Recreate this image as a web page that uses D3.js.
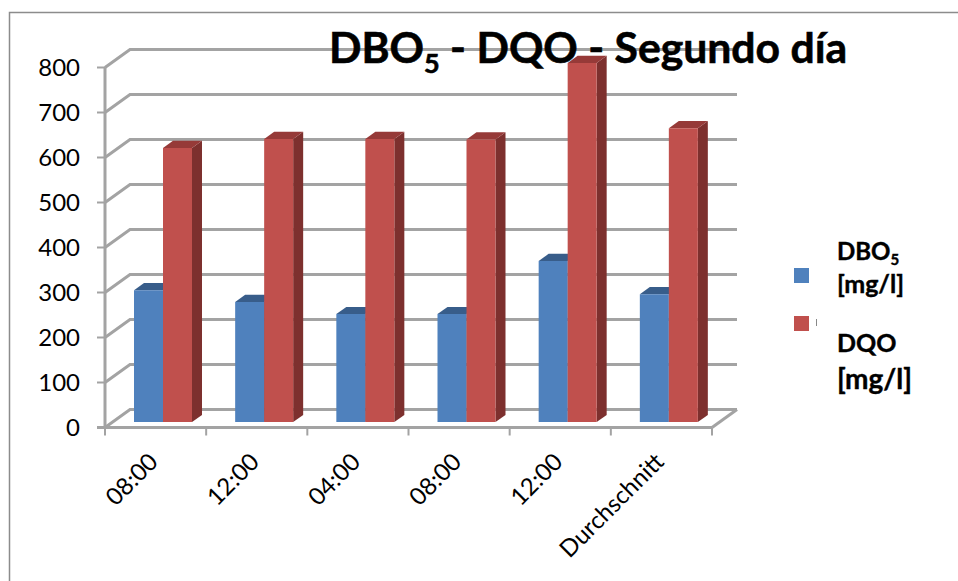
<!DOCTYPE html>
<html>
<head>
<meta charset="utf-8">
<script src="https://cdn.jsdelivr.net/npm/d3@7"></script>
<style>
html,body{margin:0;padding:0;background:#fff}
text{font-family:Lato,"Open Sans",sans-serif;fill:#000}
</style>
</head>
<body>
<svg id="chart" width="958" height="581"></svg>
<script>
// Sampling times and readings, in mg/l
const categories = ["08:00", "12:00", "04:00", "08:00", "12:00", "Durchschnitt"];
const dbo5 = [293, 267, 240, 240, 358, 284];
const dqo = [609, 629, 629, 628, 798, 653];
const yTicks = [0, 100, 200, 300, 400, 500, 600, 700, 800];

const svg = d3.select("#chart");

// Oblique projection: depth 0 is the front edge of the floor, depth 1 the back wall
const depthX = 25, depthY = -18;
const x = d3.scaleBand().domain(d3.range(categories.length)).range([105, 712]);
const y = d3.scaleLinear().domain([0, 800]).range([427.5, 67.5]);
const project = (px, v, depth) => [px + depth * depthX, y(v) + depth * depthY];

const gridColor = "#a3a3a3";
const line = d3.line();

// Chart frame: only the top and left edges fall inside the page
svg.append("path").attr("d", line([[9.5, 581], [9.5, 12.5], [958, 12.5]]))
  .attr("fill", "none").attr("stroke", "#8c8c8c").attr("stroke-width", 1.5);

// Back wall gridlines with their slanted returns along the side wall
const grid = svg.append("g").attr("fill", "none").attr("stroke", gridColor).attr("stroke-width", 3);
yTicks.forEach(v => {
  grid.append("path").attr("d", line([project(105, v, 0), project(105, v, 1), project(712, v, 1)]));
});
// Floor, closing on the right
grid.append("path").attr("d", line([project(712, 0, 0), project(712, 0, 1)]));

// Value axis with outward ticks
const axisG = svg.append("g").attr("fill", "none").attr("stroke", gridColor).attr("stroke-width", 3);
axisG.append("path").attr("d", line([[105, y(800)], [105, y(0)]]));
axisG.append("path").attr("d", line([[97, y(0)], [712, y(0)]]));
yTicks.forEach(v => {
  axisG.append("path").attr("d", line([[97, y(v)], [105, y(v)]])).attr("stroke-width", 2);
});
const xEdges = d3.range(categories.length).map(i => x(i)).concat([712]);
xEdges.forEach(px => {
  axisG.append("path").attr("d", line([[px, y(0)], [px, y(0) + 8]])).attr("stroke-width", 2);
});

// Value labels
svg.append("g").selectAll("text").data(yTicks).join("text")
  .attr("x", 80).attr("y", d => y(d)).attr("dy", "0.35em")
  .attr("text-anchor", "end").attr("font-size", 24)
  .text(d => d);

// Rotated category labels
svg.append("g").selectAll("text").data(categories).join("text")
  .attr("text-anchor", "end")
  .attr("font-size", 24)
  .attr("transform", (d, i) => `translate(${x(i) + x.bandwidth() / 2 - 8},${y(0) + 24}) rotate(-45)`)
  .attr("dy", "0.7em")
  .text(d => d);

// 3D columns: front face, top and right side, each a projected polygon
const barFront = 0.3, barBack = 0.7;
const barWidth = 29;
const series = [
  { values: dbo5, offset: 0, front: "#4f81bd", top: "#385d8a", side: "#2f4f77" },
  { values: dqo, offset: barWidth, front: "#c0504d", top: "#963a38", side: "#7d302e" }
];
const bars = svg.append("g");
d3.range(categories.length).forEach(i => {
  const left0 = x(i) + 21.5;
  series.forEach(s => {
    const v = s.values[i];
    const l = left0 + s.offset;
    const r = l + barWidth;
    const poly = pts => pts.map(p => p.join(",")).join(" ");
    bars.append("polygon").attr("fill", s.side).attr("points", poly([
      project(r, 0, barFront), project(r, v, barFront), project(r, v, barBack), project(r, 0, barBack)
    ]));
    bars.append("polygon").attr("fill", s.top).attr("points", poly([
      project(l, v, barFront), project(r, v, barFront), project(r, v, barBack), project(l, v, barBack)
    ]));
    bars.append("polygon").attr("fill", s.front).attr("points", poly([
      project(l, 0, barFront), project(r, 0, barFront), project(r, v, barFront), project(l, v, barFront)
    ]));
  });
});

// Title with subscript
const title = svg.append("text").attr("x", 329).attr("y", 63)
  .attr("font-size", 42.7).attr("font-weight", 700)
  .attr("stroke", "#000").attr("stroke-width", 0.6);
title.append("tspan").text("DBO");
title.append("tspan").attr("font-size", 27).attr("dy", 10).text("5");
title.append("tspan").attr("dy", -10).text(" - DQO - Segundo día");

// Legend
const legend = svg.append("g");
legend.append("rect").attr("x", 794).attr("y", 268).attr("width", 15).attr("height", 15).attr("fill", series[0].front);
legend.append("rect").attr("x", 794).attr("y", 316).attr("width", 15).attr("height", 15).attr("fill", series[1].front);
legend.append("path").attr("d", line([[816.5, 319], [816.5, 326]])).attr("stroke", "#888").attr("stroke-width", 1);
const legendText = legend.append("g").attr("font-weight", 700).attr("stroke", "#000").attr("stroke-width", 0.4);
const l1 = legendText.append("text").attr("x", 837).attr("y", 260).attr("font-size", 24);
l1.append("tspan").text("DBO");
l1.append("tspan").attr("font-size", 15).attr("dy", 5).text("5");
legendText.append("text").attr("x", 837).attr("y", 293).attr("font-size", 25).text("[mg/l]");
legendText.append("text").attr("x", 837).attr("y", 352).attr("font-size", 25).text("DQO");
legendText.append("text").attr("x", 837).attr("y", 389).attr("font-size", 28).text("[mg/l]");
</script>
</body>
</html>
